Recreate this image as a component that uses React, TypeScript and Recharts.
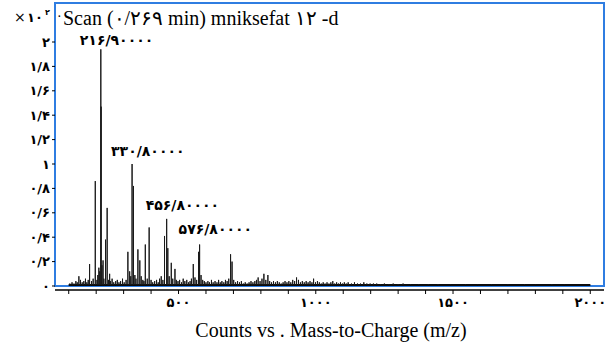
import React from "react";
import { ComposedChart, Line, XAxis, YAxis, ReferenceArea, Scatter } from "recharts";

// Main ions (m/z) and their counts (x10^2)
const peakMz = [
  137, 176, 196.7, 209.8, 216.9, 218.0, 225, 234, 240, 249, 296, 315.5, 330.8, 336,
  352, 359, 379, 393, 437, 449, 456.8, 461, 473.6, 487, 553.7, 573, 576.8, 689.6,
  695, 790, 811, 825.5, 930, 992,
];
const peakCounts = [
  0.08, 0.18, 0.86, 0.15, 1.94, 1.47, 0.21, 0.38, 0.64, 0.1, 0.06, 0.28, 1.0, 0.82,
  0.3, 0.21, 0.34, 0.48, 0.08, 0.41, 0.55, 0.31, 0.19, 0.14, 0.18, 0.28, 0.34, 0.26,
  0.2, 0.07, 0.1, 0.09, 0.07, 0.06,
];

// Low-level background ions
const noiseMz = [
  104, 112, 119, 126, 131, 143, 149, 155, 161, 166, 171, 183, 189, 203, 206, 213, 221,
  228, 245, 252, 258, 264, 271, 277, 283, 289, 302, 309, 322, 326, 341, 345, 364, 370,
  374, 386, 400, 406, 413, 420, 426, 431, 443, 466, 479, 492, 498, 504, 511, 517, 523,
  530, 536, 542, 547, 560, 566, 582, 588, 594, 600, 607, 613, 620, 626, 633, 640, 646,
  652, 658, 665, 671, 677, 683, 701, 708, 715, 722, 729, 736, 743, 750, 757, 764, 771,
  778, 784, 797, 804, 818, 832, 839, 846, 853, 860, 867, 874, 881, 888, 895, 902, 909,
  916, 923, 937, 944, 951, 958, 965, 972, 979, 986, 999, 1006, 1013, 1020, 1027, 1034,
  1041, 1048, 1055, 1062, 1069, 1076, 1083, 1090, 1097, 1104, 1111, 1118, 1130, 1141,
  1152, 1163, 1175, 1186, 1198, 1210, 1222, 1236, 1250, 1266, 1282, 1300, 1318, 1345,
  1375, 1410, 1445, 1490, 1545, 1590, 1640, 1700, 1760, 1800, 1860, 1905,
];
const noiseCounts = [
  0.02, 0.03, 0.02, 0.04, 0.03, 0.05, 0.03, 0.04, 0.06, 0.03, 0.05, 0.04, 0.06, 0.05,
  0.09, 0.12, 0.17, 0.06, 0.05, 0.04, 0.06, 0.03, 0.04, 0.05, 0.03, 0.04, 0.03, 0.05,
  0.12, 0.08, 0.09, 0.06, 0.08, 0.05, 0.04, 0.06, 0.05, 0.03, 0.04, 0.05, 0.03, 0.06,
  0.05, 0.08, 0.06, 0.05, 0.04, 0.05, 0.03, 0.06, 0.04, 0.05, 0.03, 0.04, 0.06, 0.07,
  0.05, 0.09, 0.05, 0.04, 0.03, 0.04, 0.03, 0.05, 0.03, 0.04, 0.03, 0.05, 0.03, 0.04,
  0.03, 0.05, 0.04, 0.06, 0.05, 0.03, 0.04, 0.03, 0.04, 0.02, 0.03, 0.02, 0.03, 0.04,
  0.03, 0.04, 0.05, 0.04, 0.06, 0.05, 0.04, 0.03, 0.04, 0.03, 0.04, 0.03, 0.02, 0.03,
  0.04, 0.03, 0.04, 0.03, 0.05, 0.04, 0.05, 0.03, 0.04, 0.03, 0.04, 0.03, 0.04, 0.03,
  0.03, 0.04, 0.03, 0.02, 0.03, 0.02, 0.03, 0.02, 0.03, 0.04, 0.02, 0.03, 0.02, 0.03,
  0.02, 0.03, 0.02, 0.03, 0.02, 0.03, 0.02, 0.02, 0.03, 0.02, 0.02, 0.02, 0.02, 0.015,
  0.02, 0.015, 0.02, 0.015, 0.02, 0.015, 0.015, 0.015, 0.015, 0.012, 0.015, 0.012,
  0.015, 0.012, 0.015, 0.012, 0.015, 0.012,
];

// Annotated ions
const labeledMz = [216.9, 330.8, 456.8, 576.8];
const labelLift = [9, 13, 14, 16];

const baselineLevel = 0.008;
const scanStart = 100;
const scanEnd = 2000;

const xTicks = [
  100, 200, 300, 400, 500, 600, 700, 800, 900, 1000, 1100, 1200, 1300, 1400, 1500, 1600,
  1700, 1800, 1900, 2000,
];
const yTicks = [0, 0.2, 0.4, 0.6, 0.8, 1, 1.2, 1.4, 1.6, 1.8, 2];

const titleText = "Scan (۰/۲۶۹ min) mniksefat ۱۲ -d";
const xTitle = "Counts vs . Mass-to-Charge (m/z)";

const FA = "۰۱۲۳۴۵۶۷۸۹";
const toFa = (s: string) => s.replace(".", "/").replace(/[0-9]/g, (d) => FA[+d]);

type Pt = { mz: number; v: number };

const ions: Pt[] = [
  ...peakMz.map((mz, i) => ({ mz, v: peakCounts[i] })),
  ...noiseMz.map((mz, i) => ({ mz, v: noiseCounts[i] })),
].sort((a, b) => a.mz - b.mz);

// Stick spectrum: each ion goes up from the baseline and back down
const sticks: Pt[] = [{ mz: scanStart, v: baselineLevel }];
ions.forEach((p) => {
  sticks.push({ mz: p.mz, v: baselineLevel }, { mz: p.mz, v: p.v }, { mz: p.mz, v: baselineLevel });
});
sticks.push({ mz: scanEnd, v: baselineLevel });

const baseline: Pt[] = [
  { mz: scanStart, v: baselineLevel },
  { mz: scanEnd, v: baselineLevel },
];

const labeled: Pt[] = labeledMz.map((mz) => ({ mz, v: peakCounts[peakMz.indexOf(mz)] }));

const digitFont = "'DejaVu Sans', sans-serif";
const textFont = "'Liberation Serif', serif";

const PeakLabel = (props: any) => {
  const { cx, cy, payload } = props;
  const i = labeledMz.indexOf(payload.mz);
  return (
    <text
      x={cx - 21}
      y={cy - labelLift[i]}
      dominantBaseline="central"
      fontFamily={digitFont}
      fontWeight="bold"
      fontSize={14}
      fill="#000"
    >
      {toFa(payload.mz.toFixed(5))}
    </text>
  );
};

const X_MIN = 50;
const X_MAX = 2050;
const Y_MIN = -0.0328;
const Y_MAX = 2.3197;

export default function App() {
  return (
    <div style={{ position: "absolute", left: 0, top: 0, width: 612, height: 344, background: "#fff" }}>
      <ComposedChart
        width={612}
        height={344}
        margin={{ top: 3, right: 8, left: 0, bottom: 0 }}
        data={sticks}
      >
        <XAxis
          dataKey="mz"
          type="number"
          domain={[X_MIN, X_MAX]}
          ticks={xTicks}
          allowDataOverflow
          height={54}
          tickSize={4}
          tickMargin={4}
          axisLine={{ stroke: "#000", strokeWidth: 1.5 }}
          tickLine={{ stroke: "#000" }}
          tickFormatter={(v: number) => (v % 500 === 0 ? toFa(String(v)) : "")}
          tick={{ fontFamily: digitFont, fontWeight: "bold", fontSize: 13, fill: "#000" }}
        />
        <YAxis
          type="number"
          domain={[Y_MIN, Y_MAX]}
          ticks={yTicks}
          allowDataOverflow
          width={55}
          tickSize={3}
          tickMargin={2}
          axisLine={false}
          tickLine={{ stroke: "#000" }}
          tickFormatter={(v: number) => toFa(String(+v.toFixed(1)))}
          tick={{ fontFamily: digitFont, fontWeight: "bold", fontSize: 13, fill: "#000" }}
        />
        <ReferenceArea
          x1={X_MIN}
          x2={X_MAX}
          y1={0}
          y2={Y_MAX}
          fill="none"
          stroke="#2f7de1"
          strokeWidth={2}
          ifOverflow="visible"
        />
        <Line
          data={baseline}
          dataKey="v"
          stroke="#000"
          strokeWidth={2}
          dot={false}
          activeDot={false}
          isAnimationActive={false}
        />
        <Line
          dataKey="v"
          type="linear"
          stroke="#1a1a1a"
          strokeWidth={1}
          dot={false}
          activeDot={false}
          isAnimationActive={false}
        />
        <Scatter data={labeled} dataKey="v" shape={PeakLabel} isAnimationActive={false} />
        <text x={14} y={22} fontFamily={digitFont} fontSize={14} fill="#000">×</text>
        <text x={27} y={22} fontFamily={digitFont} fontWeight="bold" fontSize={13} fill="#000">۱۰</text>
        <text x={45} y={15} fontFamily={digitFont} fontWeight="bold" fontSize={8} fill="#000">۲</text>
        <text x={57} y={21} fontFamily={textFont} fontSize={14} fill="#000">·</text>
        <text x={63} y={25} fontFamily={textFont} fontSize={20} fill="#000">{titleText}</text>
        <text x={331} y={337} textAnchor="middle" fontFamily={textFont} fontSize={20} fill="#000">
          {xTitle}
        </text>
      </ComposedChart>
    </div>
  );
}
